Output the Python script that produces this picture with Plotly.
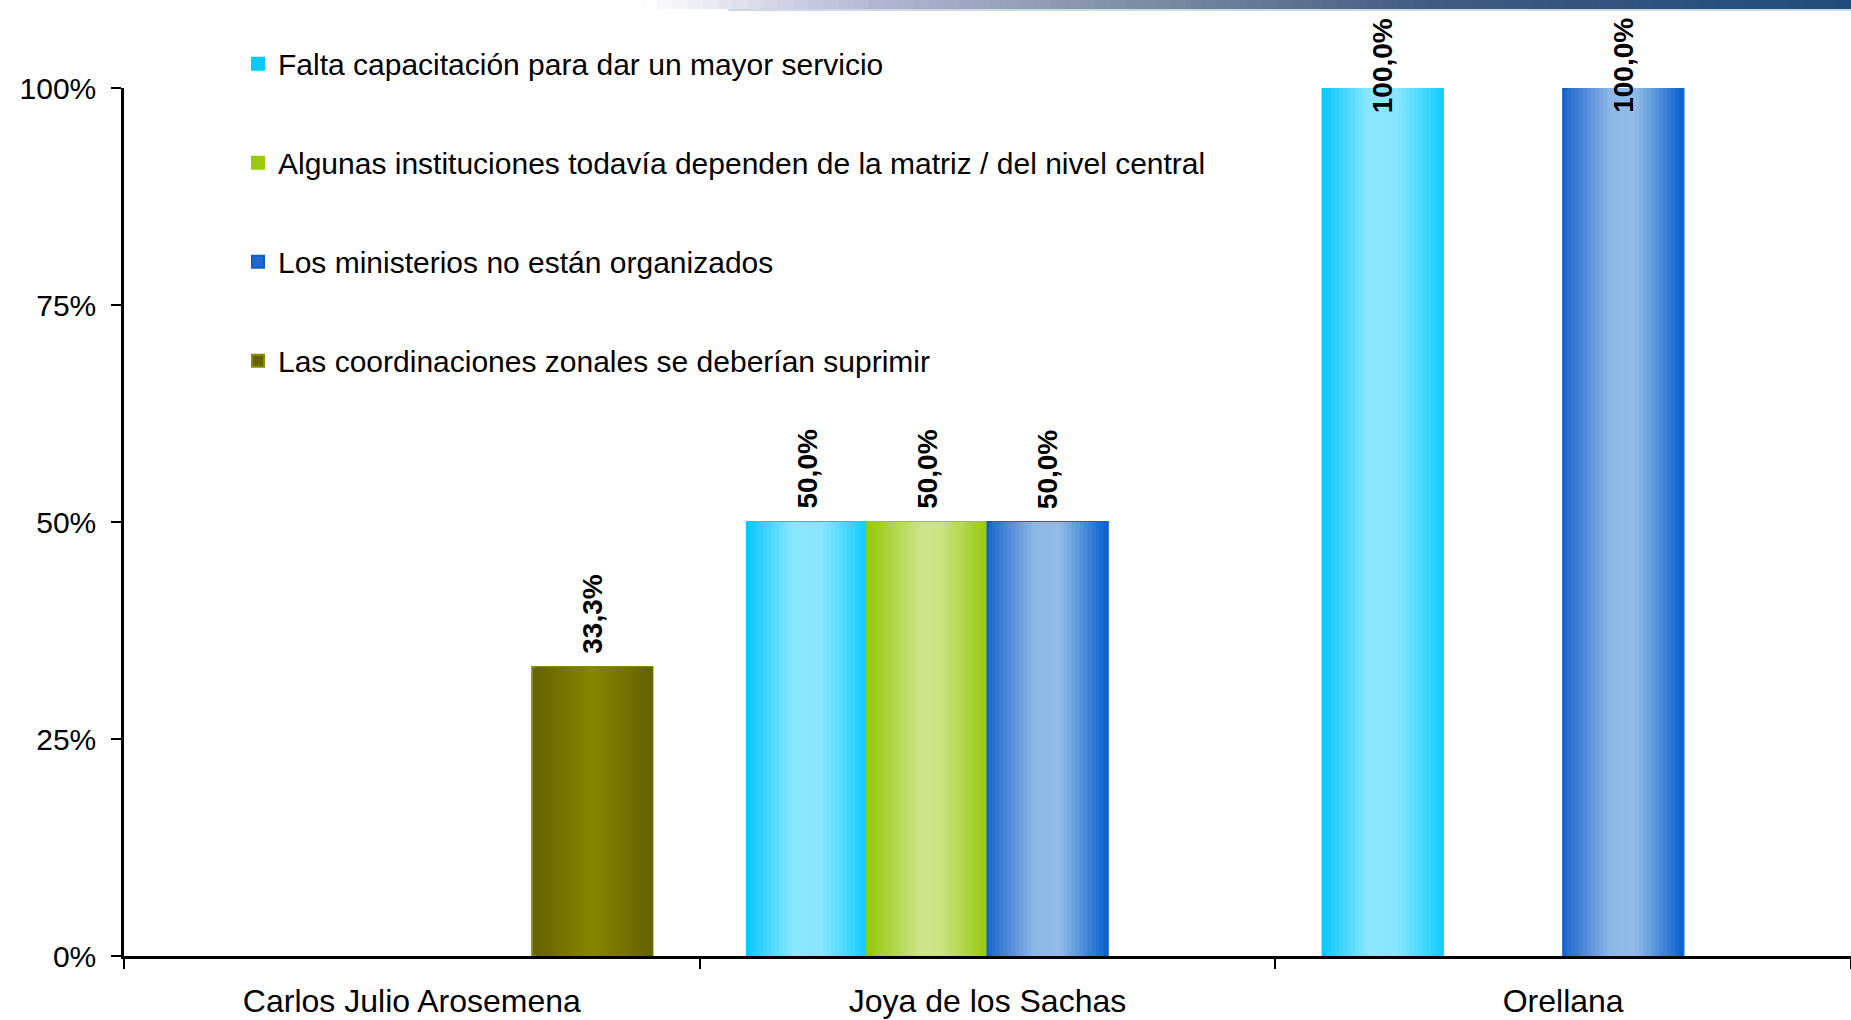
import plotly.graph_objects as go

# data
categories = ["Carlos Julio Arosemena", "Joya de los Sachas", "Orellana"]
series_names = [
    "Falta capacitación para dar un mayor servicio",
    "Algunas instituciones todavía dependen de la matriz / del nivel central",
    "Los ministerios no están organizados",
    "Las coordinaciones zonales se deberían suprimir",
]
falta = [None, 50.0, 100.0]
algunas = [None, 50.0, None]
ministerios = [None, 50.0, 100.0]
coordinaciones = [33.3, None, None]
y_ticks = [0, 25, 50, 75, 100]

series_values = [falta, algunas, ministerios, coordinaciones]

# horizontal gradient of every bar: (position across bar, colour)
gradients = [
    [(0.0, (8, 200, 250)), (0.38, (138, 231, 255)), (0.62, (138, 230, 255)), (1.0, (14, 205, 255))],
    [(0.0, (150, 200, 10)), (0.45, (206, 228, 138)), (0.6, (205, 227, 135)), (1.0, (152, 202, 12))],
    [(0.0, (28, 100, 204)), (0.38, (140, 182, 230)), (0.6, (146, 188, 230)), (1.0, (8, 94, 206))],
    [(0.0, (98, 98, 0)), (0.5, (134, 134, 0)), (1.0, (98, 98, 0))],
]
edge_colors = ["rgb(0,204,255)", "rgb(153,204,0)", "rgb(10,96,204)", "rgb(138,138,0)"]


def grad_color(stops, t):
    for (p0, c0), (p1, c1) in zip(stops[:-1], stops[1:]):
        if p0 <= t <= p1:
            f = (t - p0) / (p1 - p0) if p1 > p0 else 0
            c = [round(a + (b - a) * f) for a, b in zip(c0, c1)]
            return "rgb(%d,%d,%d)" % tuple(c)
    return "rgb(%d,%d,%d)" % stops[-1][1]


group_w = 0.836
bar_w = group_w / len(series_names)
n_strips = 30
strip_w = bar_w / n_strips

fig = go.Figure()

for i, (name, vals) in enumerate(zip(series_names, series_values)):
    off = -group_w / 2 + i * bar_w
    for k in range(n_strips):
        t = (k + 0.5) / n_strips
        # every strip runs to the right edge of the bar, the next one covers it
        fig.add_trace(go.Bar(
            x=categories, y=vals, name=name,
            width=bar_w - k * strip_w, offset=off + k * strip_w,
            marker=dict(color=grad_color(gradients[i], t),
                        line=dict(width=2 if k == 0 else 0, color=edge_colors[i])),
            legendgroup=name, showlegend=(k == 0),
            hoverinfo="skip" if k != n_strips // 2 else None,
        ))

# rotated value labels above the bars
annotations = []
for i, vals in enumerate(series_values):
    off = -group_w / 2 + i * bar_w
    for j, v in enumerate(vals):
        if v is None:
            continue
        annotations.append(dict(
            x=j + off + bar_w / 2, y=v, xref="x", yref="y",
            text=("%.1f" % v).replace(".", ",") + "%",
            textangle=-90, showarrow=False, yanchor="bottom",
            yshift=11 if v < 100 else -27,
            font=dict(family="Liberation Sans, Arial", size=28, color="black", weight="bold"),
        ))

top_m = 88
plot_h = 1020 - top_m - 64

# decorative gradient strip along the top edge
band_stops = [(0.0, (255, 255, 255)), (0.2, (176, 180, 208)), (0.43, (122, 138, 160)),
              (0.65, (66, 90, 128)), (1.0, (30, 76, 122))]
shapes = []
n_band = 80
x0b, x1b = 0.30, 1.0
for k in range(n_band):
    a = x0b + (x1b - x0b) * k / n_band
    b = x0b + (x1b - x0b) * (k + 1) / n_band
    shapes.append(dict(type="rect", xref="paper", yref="paper", x0=a, x1=b + 0.002,
                       y0=1.0 + (top_m - 9) / plot_h, y1=1.0 + (top_m + 5) / plot_h,
                       layer="above",
                       fillcolor=grad_color(band_stops, (k + 0.5) / n_band), line=dict(width=0)))
shapes.append(dict(type="line", xref="paper", yref="paper", x0=x0b + 0.05, x1=1.0,
                   y0=1.0 + (top_m - 10) / plot_h, y1=1.0 + (top_m - 10) / plot_h,
                   line=dict(color="rgb(205,218,226)", width=2)))

fig.update_layout(
    width=1851, height=1020,
    margin=dict(l=124, r=0, t=top_m, b=64),
    paper_bgcolor="white", plot_bgcolor="white",
    barmode="overlay",
    font=dict(family="Liberation Sans, Arial", color="black"),
    showlegend=True,
    legend=dict(
        x=0.066, y=1.058, xanchor="left", yanchor="top",
        xref="paper", yref="paper",
        font=dict(size=30, color="black"),
        bgcolor="rgba(0,0,0,0)",
        traceorder="grouped", tracegroupgap=57,
    ),
    annotations=annotations,
    shapes=shapes,
    xaxis=dict(
        type="category", range=[-0.5, 2.5],
        showline=True, linecolor="black", linewidth=3,
        ticks="outside", tickson="boundaries", ticklen=10, tickwidth=1.5, tickcolor="black",
        tickfont=dict(size=32, color="black"), ticklabelstandoff=15,
        showgrid=False, zeroline=False, automargin=False,
    ),
    yaxis=dict(
        range=[0, 100], tickmode="array", tickvals=y_ticks,
        ticktext=["%d%%" % t for t in y_ticks],
        showline=True, linecolor="black", linewidth=2.5,
        ticks="outside", ticklen=10, tickwidth=1.5, tickcolor="black",
        tickfont=dict(size=30, color="black"), ticklabelstandoff=9,
        showgrid=False, zeroline=False, automargin=False,
    ),
)

# drop the default 8px page margin so the figure sits at the window's corner
fig.write_html("out.html", config={"displayModeBar": False},
               post_script="document.body.style.margin='0';")
